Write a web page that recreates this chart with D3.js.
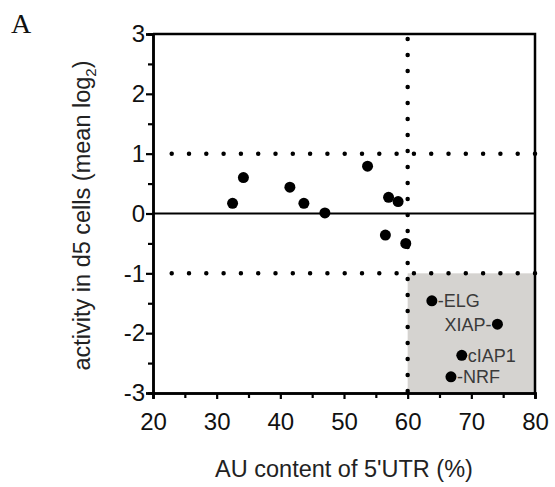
<!DOCTYPE html>
<html>
<head>
<meta charset="utf-8">
<script src="https://cdn.jsdelivr.net/npm/d3@7"></script>
<style>
  body { margin: 0; background: #fff; }
  svg { display: block; font-family: "Liberation Sans", Arial, sans-serif; }
</style>
</head>
<body>
<svg id="chart" width="555" height="487"></svg>
<script>
// values
let xTicks = [20, 30, 40, 50, 60, 70, 80];
let yTicks = [-3, -2, -1, 0, 1, 2, 3];
let auContent = [32.5, 34.2, 41.5, 43.7, 47.0, 53.7, 57.0, 58.5, 56.5, 59.7, 63.8, 74.1, 68.5, 66.8];
let activity = [0.17, 0.6, 0.44, 0.17, 0.01, 0.79, 0.27, 0.2, -0.36, -0.5, -1.46, -1.85, -2.37, -2.73];
let geneNames = ["", "", "", "", "", "", "", "", "", "", "-ELG", "XIAP-", "cIAP1", "-NRF"];
let cutoffAU = 60;
let cutoffActivity = [1, -1];

const svg = d3.select("#chart");
const x = d3.scaleLinear().domain([20, 80]).range([153, 535]);
const y = d3.scaleLinear().domain([-3, 3]).range([393, 34]);

const points = auContent.map(function (v, i) {
  return { au: v, act: activity[i], name: geneNames[i] };
});

// plain hyphen for negatives, like the original
const fmt = function (d) { return String(d); };

// grey box: AU > 60 and activity < -1
svg.append("rect")
  .attr("x", x(cutoffAU))
  .attr("y", y(-1))
  .attr("width", x(80) - x(cutoffAU))
  .attr("height", y(-3) - y(-1))
  .style("fill", "#d5d3d0");

// dotted cut-off lines
const dotted = svg.append("g")
  .style("stroke", "#000")
  .style("stroke-width", 4.5)
  .style("stroke-linecap", "round")
  .style("stroke-dasharray", "0 17.3");

dotted.selectAll("line.h")
  .data(cutoffActivity)
  .enter()
  .append("line")
  .attr("class", "h")
  .attr("x1", x(80))
  .attr("x2", x(20) + 17)
  .attr("y1", function (d) { return y(d); })
  .attr("y2", function (d) { return y(d); });

dotted.append("line")
  .style("stroke-dasharray", "0 16")
  .attr("x1", x(cutoffAU))
  .attr("x2", x(cutoffAU))
  .attr("y1", y(3) + 5)
  .attr("y2", y(-3));

// zero line
svg.append("line")
  .attr("x1", x(20)).attr("x2", x(80))
  .attr("y1", y(0)).attr("y2", y(0))
  .style("stroke", "#000")
  .style("stroke-width", 2.2);

// frame top and right
svg.append("path")
  .attr("d", "M" + x(20) + "," + y(3) + "H" + x(80) + "V" + y(-3))
  .style("fill", "none")
  .style("stroke", "#000")
  .style("stroke-width", 2.5);

// axes
const xAxis = d3.axisBottom(x).tickValues(xTicks).tickSize(6).tickPadding(14).tickFormat(fmt);
const xMinor = d3.axisBottom(x).tickValues([25, 35, 45, 55, 65, 75]).tickSize(5).tickFormat("");
const yAxis = d3.axisLeft(y).tickValues(yTicks).tickSize(7).tickPadding(1).tickFormat(fmt);
const yMinor = d3.axisLeft(y).tickValues([-2.5, -1.5, -0.5, 0.5, 1.5, 2.5]).tickSize(5).tickFormat("");

function styleAxis(g) {
  g.select(".domain").style("stroke-width", 2.5).attr("stroke", "#000");
  g.selectAll(".tick line").style("stroke-width", 2.2).attr("stroke", "#000");
  g.selectAll(".tick text")
    .attr("fill", "#111")
    .style("font-size", "24px")
    .style("font-family", "'Liberation Sans', Arial, sans-serif");
}

svg.append("g").attr("transform", "translate(0," + y(-3) + ")").call(xMinor).call(styleAxis);
svg.append("g").attr("transform", "translate(0," + y(-3) + ")").call(xAxis).call(styleAxis);
svg.append("g").attr("transform", "translate(" + x(20) + ",0)").call(yMinor).call(styleAxis);
svg.append("g").attr("transform", "translate(" + x(20) + ",0)").call(yAxis).call(styleAxis);

// data points
svg.append("g")
  .selectAll("circle")
  .data(points)
  .enter()
  .append("circle")
  .attr("cx", function (d) { return x(d.au); })
  .attr("cy", function (d) { return y(d.act); })
  .attr("r", 5.5)
  .style("fill", "#000");

// gene labels
svg.append("g")
  .selectAll("text")
  .data(points.filter(function (d) { return d.name !== ""; }))
  .enter()
  .append("text")
  .attr("x", function (d) { return x(d.au); })
  .attr("y", function (d) { return y(d.act); })
  .attr("dx", function (d) { return d.name.slice(-1) === "-" ? -6 : 6; })
  .attr("dy", "0.36em")
  .attr("text-anchor", function (d) { return d.name.slice(-1) === "-" ? "end" : "start"; })
  .style("font-size", "18px")
  .style("fill", "#3a3a3a")
  .text(function (d) { return d.name; });

// axis titles
svg.append("text")
  .attr("x", (x(20) + x(80)) / 2)
  .attr("y", 477)
  .attr("text-anchor", "middle")
  .style("font-size", "23.5px")
  .style("fill", "#222")
  .text("AU content of 5'UTR (%)");

const yTitle = svg.append("text")
  .attr("transform", "translate(90," + (y(0) + 2) + ") rotate(-90)")
  .attr("text-anchor", "middle")
  .style("font-size", "23.5px")
  .style("fill", "#222");
yTitle.append("tspan").text("activity in d5 cells (mean log");
yTitle.append("tspan").attr("dy", 6).style("font-size", "15px").text("2");
yTitle.append("tspan").attr("dy", -6).text(")");

// panel letter
svg.append("text")
  .attr("x", 11)
  .attr("y", 33)
  .style("font-family", "'Liberation Serif', 'Times New Roman', serif")
  .style("font-size", "28px")
  .style("fill", "#111")
  .text("A");
</script>
</body>
</html>
